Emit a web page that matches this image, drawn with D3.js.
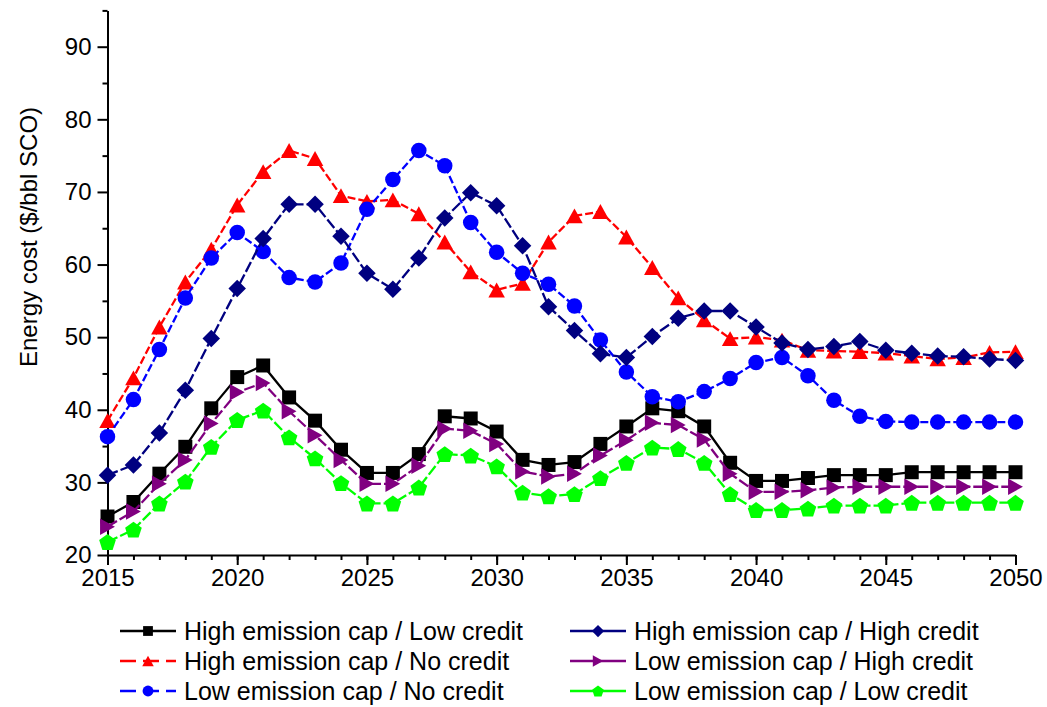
<!DOCTYPE html>
<html>
<head>
<meta charset="utf-8">
<script src="https://cdn.jsdelivr.net/npm/d3@7"></script>
<style>
  body { margin: 0; background: #fff; }
  text { font-family: Arial, "Liberation Sans", sans-serif; }
</style>
</head>
<body>
<div class="canvas"></div>
<script>
// data
const years = d3.range(2015, 2051);

const hiLow = [25.3, 27.3, 31.2, 34.9, 40.2, 44.5, 46.1, 41.7, 38.5, 34.5,
  31.3, 31.3, 33.9, 39.1, 38.8, 37.0, 33.1, 32.4, 32.8, 35.3,
  37.7, 40.2, 39.8, 37.7, 32.7, 30.2, 30.2, 30.6, 31.0, 31.0,
  31.0, 31.4, 31.4, 31.4, 31.4, 31.4];
const hiNo = [38.5, 44.4, 51.4, 57.6, 62.1, 68.2, 72.8, 75.7, 74.6, 69.5,
  68.7, 68.9, 67.0, 63.1, 59.0, 56.5, 57.4, 63.1, 66.7, 67.3,
  63.8, 59.6, 55.4, 52.4, 49.8, 50.0, 49.6, 48.2, 48.1, 48.0,
  47.8, 47.4, 47.0, 47.2, 47.9, 48.0];
const loNo = [36.3, 41.4, 48.3, 55.4, 60.9, 64.4, 61.8, 58.2, 57.6, 60.2,
  67.6, 71.7, 75.7, 73.6, 65.8, 61.7, 58.8, 57.3, 54.3, 49.6,
  45.2, 41.8, 41.1, 42.5, 44.3, 46.5, 47.2, 44.7, 41.3, 39.1,
  38.4, 38.3, 38.3, 38.3, 38.3, 38.3];
const hiHigh = [31.0, 32.4, 36.8, 42.7, 49.8, 56.7, 63.6, 68.3, 68.3, 63.9,
  58.8, 56.6, 60.9, 66.4, 69.9, 68.1, 62.6, 54.2, 50.9, 47.7,
  47.2, 50.1, 52.6, 53.6, 53.6, 51.4, 49.2, 48.3, 48.7, 49.4,
  48.2, 47.8, 47.4, 47.3, 47.0, 46.8];
const loHigh = [23.9, 26.0, 29.8, 33.1, 38.1, 42.4, 43.7, 39.8, 36.5, 33.1,
  29.8, 29.8, 32.3, 37.4, 37.1, 35.3, 31.5, 30.8, 31.2, 33.7,
  35.8, 38.2, 37.9, 35.9, 31.2, 28.7, 28.7, 28.9, 29.3, 29.4,
  29.4, 29.4, 29.4, 29.4, 29.4, 29.4];
const loLow = [21.8, 23.5, 27.1, 30.1, 34.9, 38.6, 39.9, 36.2, 33.3, 29.9,
  27.1, 27.1, 29.3, 33.9, 33.7, 32.2, 28.6, 28.1, 28.4, 30.6,
  32.7, 34.8, 34.6, 32.7, 28.4, 26.2, 26.2, 26.4, 26.8, 26.8,
  26.8, 27.2, 27.2, 27.2, 27.2, 27.2];

const xMajor = [2015, 2020, 2025, 2030, 2035, 2040, 2045, 2050];
const yMajor = [20, 30, 40, 50, 60, 70, 80, 90];
const yMinor = [25, 35, 45, 55, 65, 75, 85, 95];

// marker shapes, centred on the bounding box
const shapes = {
  square: (s) => `M${-s / 2},${-s / 2}h${s}v${s}h${-s}Z`,
  circle: (s) => d3.symbol(d3.symbolCircle, Math.PI * (s / 2) * (s / 2))(),
  diamond: (s) => `M0,${-s / 2}L${s / 2},0L0,${s / 2}L${-s / 2},0Z`,
  triUp: (s) => `M0,${-s * 0.45}L${s / 2},${s * 0.45}L${-s / 2},${s * 0.45}Z`,
  triRight: (s) => `M${s * 0.45},0L${-s * 0.45},${s / 2}L${-s * 0.45},${-s / 2}Z`,
  pentagon: (s) => {
    const r = s * 0.53;
    const pts = d3.range(5).map((i) => {
      const a = -Math.PI / 2 + (i * 2 * Math.PI) / 5;
      return [r * Math.cos(a), r * Math.sin(a) + r * 0.1];
    });
    return "M" + pts.join("L") + "Z";
  },
};

// draw order and legend slots
const series = [
  { name: "High emission cap / Low credit", values: hiLow, color: "#000000", shape: "square", size: 14, dash: null, legendDash: null, col: 0, row: 0 },
  { name: "High emission cap / No credit", values: hiNo, color: "#ff0000", shape: "triUp", size: 16.5, dash: "8,3", legendDash: "16,7", col: 0, row: 1 },
  { name: "Low emission cap / No credit", values: loNo, color: "#0000ff", shape: "circle", size: 15.5, dash: "8,3", legendDash: "16,7", col: 0, row: 2 },
  { name: "High emission cap / High credit", values: hiHigh, color: "#000080", shape: "diamond", size: 17.5, dash: "11,3", legendDash: null, col: 1, row: 0 },
  { name: "Low emission cap / High credit", values: loHigh, color: "#800080", shape: "triRight", size: 16.5, dash: "11,3", legendDash: null, col: 1, row: 1 },
  { name: "Low emission cap / Low credit", values: loLow, color: "#00ff00", shape: "pentagon", size: 16.5, dash: "11,3", legendDash: null, col: 1, row: 2 },
];

const width = 1047;
const height = 707;

const svg = d3
  .select(".canvas")
  .append("svg")
  .attr("width", width)
  .attr("height", height);

// scales
const x = d3.scaleLinear().domain([2015, 2050]).range([107.5, 1015.5]);
const y = d3.scaleLinear().domain([20, 95]).range([555, 10.4]);

// axes
const styleAxis = (g) => {
  g.selectAll("path.domain").attr("stroke", "#000").attr("stroke-width", 2);
  g.selectAll(".tick line").attr("stroke", "#000").attr("stroke-width", 2);
  g.selectAll(".tick text").attr("font-size", 24).attr("fill", "#000")
    .style("font-family", "Arial, 'Liberation Sans', sans-serif");
};

svg.append("g")
  .attr("transform", `translate(0,${y(20)})`)
  .call(d3.axisBottom(x).tickValues(years).tickSize(5).tickSizeOuter(0).tickFormat(""))
  .call(styleAxis);

svg.append("g")
  .attr("transform", `translate(0,${y(20)})`)
  .call(d3.axisBottom(x).tickValues(xMajor).tickSize(10).tickSizeOuter(0).tickPadding(4).tickFormat(d3.format("d")))
  .call(styleAxis)
  .call((g) => g.select(".domain").remove());

svg.append("g")
  .attr("transform", `translate(${x(2015)},0)`)
  .call(d3.axisLeft(y).tickValues(yMinor).tickSize(5).tickSizeOuter(0).tickFormat(""))
  .call(styleAxis);

svg.append("g")
  .attr("transform", `translate(${x(2015)},0)`)
  .call(d3.axisLeft(y).tickValues(yMajor).tickSize(10).tickSizeOuter(0).tickPadding(6))
  .call(styleAxis)
  .call((g) => g.select(".domain").remove());

// y axis title
svg.append("text")
  .attr("transform", "translate(37,237) rotate(-90)")
  .attr("text-anchor", "middle")
  .attr("font-size", 24)
  .text("Energy cost ($/bbl SCO)");

// line generator
const line = d3
  .line()
  .x((d, i) => x(years[i]))
  .y((d) => y(d));

// lines and markers
series.forEach((s) => {
  const g = svg.append("g");

  g.append("path")
    .datum(s.values)
    .attr("fill", "none")
    .attr("stroke", s.color)
    .attr("stroke-width", 2.3)
    .attr("stroke-dasharray", s.dash)
    .attr("d", line);

  g.selectAll("path.marker")
    .data(s.values)
    .enter()
    .append("path")
    .attr("class", "marker")
    .attr("transform", (d, i) => `translate(${x(years[i])},${y(d)})`)
    .attr("d", shapes[s.shape](s.size))
    .attr("fill", s.color);
});

// legend
const legend = svg.append("g");
const legendX = [148, 598];
const legendY = [631, 661, 691];

series.forEach((s) => {
  const lx = legendX[s.col];
  const ly = legendY[s.row];
  const item = legend.append("g").attr("transform", `translate(${lx},${ly})`);

  item.append("line")
    .attr("x1", -28)
    .attr("x2", 28)
    .attr("stroke", s.color)
    .attr("stroke-width", 2.3)
    .attr("stroke-dasharray", s.legendDash);

  item.append("path")
    .attr("d", shapes[s.shape](s.size * 0.7))
    .attr("fill", s.color);

  item.append("text")
    .attr("x", 36)
    .attr("dy", "0.36em")
    .attr("font-size", 25)
    .text(s.name);
});
</script>
</body>
</html>
